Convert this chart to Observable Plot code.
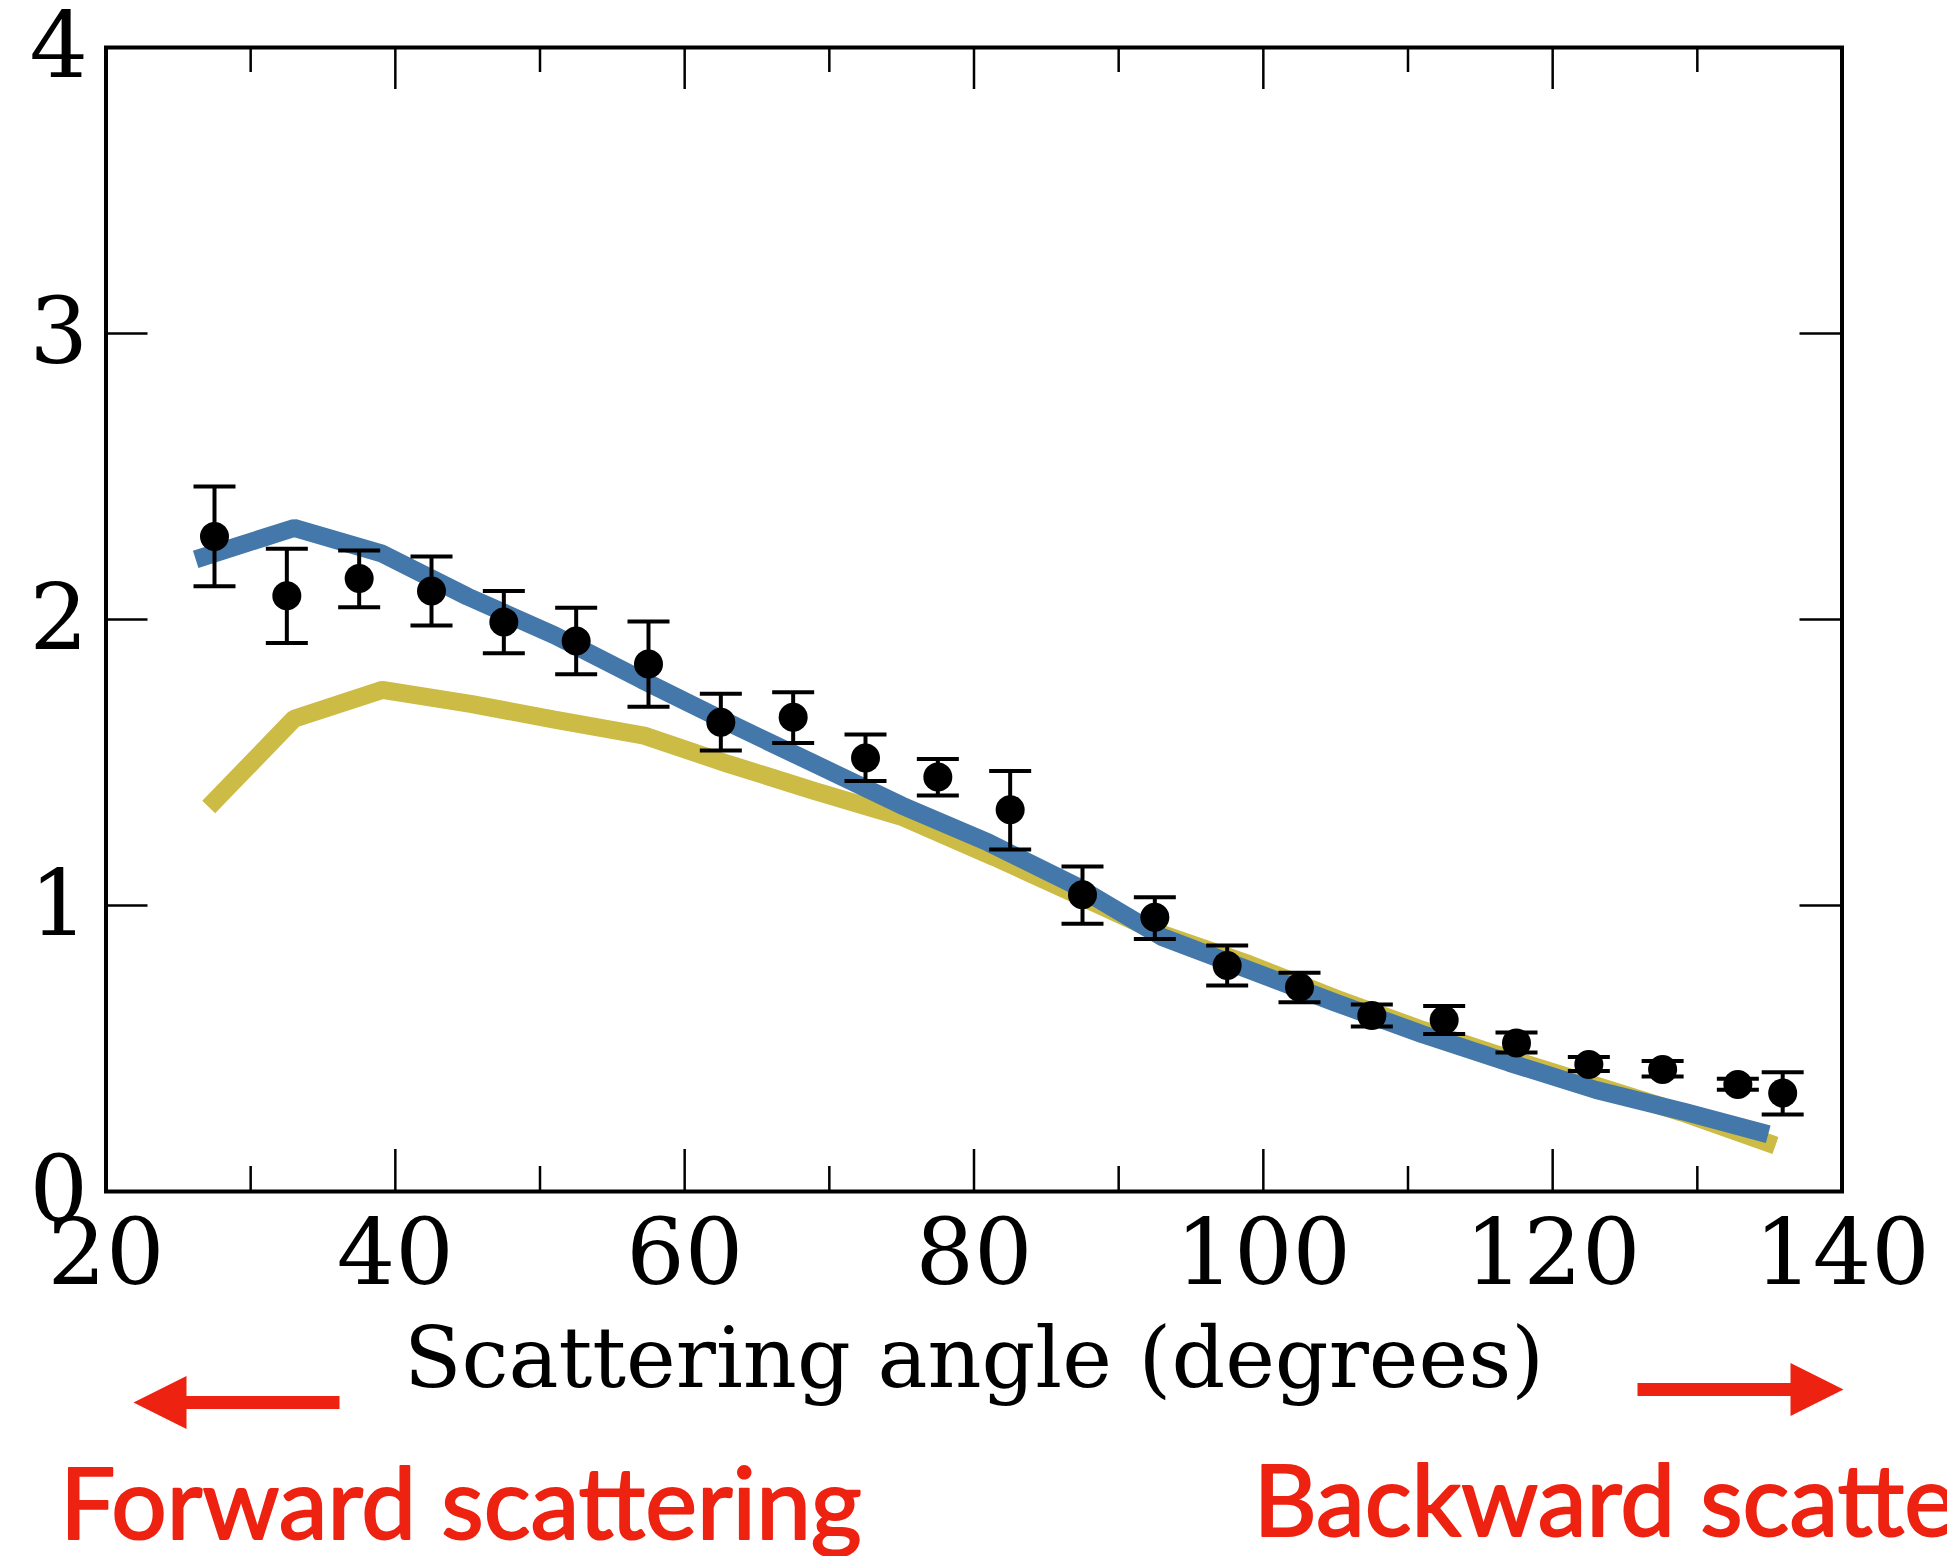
<!DOCTYPE html>
<html>
<head>
<meta charset="utf-8">
<script src="https://cdn.jsdelivr.net/npm/d3@7"></script>
<script src="https://cdn.jsdelivr.net/npm/@observablehq/plot@0.6"></script>
<style>
  html, body { margin: 0; padding: 0; background: #fff; overflow: hidden; }
</style>
</head>
<body>
<div id="chart"></div>
<script>
// ---- Data ----
const angles  = [27.5, 32.5, 37.5, 42.5, 47.5, 52.5, 57.5, 62.5, 67.5, 72.5, 77.5, 82.5, 87.5, 92.5, 97.5, 102.5, 107.5, 112.5, 117.5, 122.5, 127.6, 132.8, 135.9];
const values  = [2.290, 2.083, 2.143, 2.100, 1.991, 1.925, 1.844, 1.641, 1.658, 1.516, 1.449, 1.335, 1.038, 0.959, 0.790, 0.714, 0.615, 0.600, 0.519, 0.444, 0.427, 0.374, 0.344];
const errLow  = [2.116, 1.918, 2.043, 1.979, 1.882, 1.809, 1.695, 1.542, 1.568, 1.435, 1.385, 1.196, 0.936, 0.883, 0.720, 0.662, 0.577, 0.551, 0.486, 0.421, 0.402, 0.356, 0.269];
const errHigh = [2.465, 2.247, 2.241, 2.220, 2.100, 2.041, 1.993, 1.740, 1.746, 1.598, 1.512, 1.470, 1.136, 1.029, 0.860, 0.765, 0.654, 0.649, 0.556, 0.470, 0.456, 0.394, 0.417];

const blueAngle = [26.2, 33.0, 39.1, 45.0, 51.0, 57.0, 63.0, 69.0, 75.0, 81.0, 87.0, 93.0, 99.0, 105.0, 111.0, 117.0, 123.0, 129.0, 134.9];
const blueValue = [2.21, 2.32, 2.23, 2.08, 1.945, 1.79, 1.64, 1.495, 1.35, 1.22, 1.07, 0.89, 0.775, 0.66, 0.55, 0.45, 0.355, 0.28, 0.20];

const yellowAngle = [27.1, 33.0, 39.1, 45.2, 51.0, 57.2, 63.0, 69.0, 75.0, 81.4, 87.0, 93.0, 99.0, 105.0, 111.0, 117.0, 123.0, 129.0, 135.4];
const yellowValue = [1.344, 1.653, 1.754, 1.705, 1.65, 1.594, 1.495, 1.40, 1.31, 1.169, 1.04, 0.90, 0.795, 0.675, 0.565, 0.465, 0.37, 0.275, 0.161];

const xMajorTicks = [20, 40, 60, 80, 100, 120, 140];
const xMinorTicks = [30, 50, 70, 90, 110, 130];
const yMajorTicks = [0, 1, 2, 3, 4];

const xLabel = "Scattering angle (degrees)";
const forwardLabel = "Forward scattering";
const backwardLabel = "Backward scattering";

// ---- Layout ----
const W = 1947, H = 1556;
const mL = 105.5, mR = 105.5, mT = 47, mB = 365;
const frameW = W - mL - mR, frameH = H - mT - mB;
const majorLen = 42, minorLen = 25;
const RED = "#EE2211";

const points = angles.map((a, i) => ({angle: a, value: values[i], lo: errLow[i], hi: errHigh[i]}));
const blue = blueAngle.map((a, i) => ({angle: a, value: blueValue[i]}));
const yellow = yellowAngle.map((a, i) => ({angle: a, value: yellowValue[i]}));

const capSymbol = {draw(ctx) { ctx.moveTo(-21, 0); ctx.lineTo(21, 0); }};
function arrowSymbol(dir) {
  return {draw(ctx) {
    const s = dir;
    ctx.moveTo(-103 * s, 0);
    ctx.lineTo(-50 * s, -26.5);
    ctx.lineTo(-50 * s, -6.5);
    ctx.lineTo(103 * s, -6.5);
    ctx.lineTo(103 * s, 6.5);
    ctx.lineTo(-50 * s, 6.5);
    ctx.lineTo(-50 * s, 26.5);
    ctx.closePath();
  }};
}

const chart = Plot.plot({
  width: W,
  height: H,
  marginLeft: mL,
  marginRight: mR,
  marginTop: mT,
  marginBottom: mB,
  style: {fontFamily: "DejaVu Serif", background: "white", color: "black", overflow: "visible"},
  x: {domain: [20, 140]},
  y: {domain: [0, 4]},
  marks: [
    // model curves
    Plot.line(yellow, {x: "angle", y: "value", stroke: "#CCBB44", strokeWidth: 18, strokeLinecap: "butt", strokeLinejoin: "miter"}),
    Plot.line(blue, {x: "angle", y: "value", stroke: "#4477AA", strokeWidth: 18, strokeLinecap: "butt", strokeLinejoin: "miter"}),
    // error bars
    Plot.ruleX(points, {x: "angle", y1: "lo", y2: "hi", stroke: "black", strokeWidth: 4}),
    Plot.dot(points, {x: "angle", y: "lo", symbol: capSymbol, stroke: "black", fill: "none", strokeWidth: 4}),
    Plot.dot(points, {x: "angle", y: "hi", symbol: capSymbol, stroke: "black", fill: "none", strokeWidth: 4}),
    // data points
    Plot.dot(points, {x: "angle", y: "value", r: 14.5, fill: "black", stroke: "none"}),
    // inward ticks (bottom / top)
    Plot.ruleX(xMajorTicks, {x: d => d, insetTop: frameH - majorLen, stroke: "black", strokeWidth: 2.5}),
    Plot.ruleX(xMinorTicks, {x: d => d, insetTop: frameH - minorLen, stroke: "black", strokeWidth: 2.5}),
    Plot.ruleX(xMajorTicks, {x: d => d, insetBottom: frameH - majorLen, stroke: "black", strokeWidth: 2.5}),
    Plot.ruleX(xMinorTicks, {x: d => d, insetBottom: frameH - minorLen, stroke: "black", strokeWidth: 2.5}),
    // inward ticks (left / right)
    Plot.ruleY(yMajorTicks, {y: d => d, insetRight: frameW - majorLen, stroke: "black", strokeWidth: 2.5}),
    Plot.ruleY(yMajorTicks, {y: d => d, insetLeft: frameW - majorLen, stroke: "black", strokeWidth: 2.5}),
    Plot.frame({stroke: "black", strokeWidth: 4}),
    // tick labels
    Plot.axisX({ticks: xMajorTicks, tickSize: 0, tickPadding: 27, fontSize: 92, label: null, tickFormat: d => String(d)}),
    Plot.axisY({ticks: yMajorTicks, tickSize: 0, tickPadding: 18, fontSize: 92, label: null, tickFormat: d => String(d)}),
    // axis label
    Plot.text([xLabel], {frameAnchor: "bottom", dy: 195, lineAnchor: "bottom", fontSize: 84, fill: "black"}),
    // red annotations
    Plot.dot([0], {frameAnchor: "bottom-left", dx: 130.5, dy: 211, symbol: arrowSymbol(1), fill: RED, stroke: "none"}),
    Plot.dot([0], {frameAnchor: "bottom-left", dx: 1634.5, dy: 198, symbol: arrowSymbol(-1), fill: RED, stroke: "none"}),
    Plot.text([forwardLabel], {frameAnchor: "bottom-left", dx: -46, dy: 347, lineAnchor: "bottom", textAnchor: "start", fontSize: 98, fontFamily: "Lato", fill: RED, stroke: RED, strokeWidth: 2}),
    Plot.text([backwardLabel], {frameAnchor: "bottom-left", dx: 1147.5, dy: 344, lineAnchor: "bottom", textAnchor: "start", fontSize: 98, fontFamily: "Lato", fill: RED, stroke: RED, strokeWidth: 2})
  ]
});

document.getElementById("chart").appendChild(chart);
</script>
</body>
</html>
